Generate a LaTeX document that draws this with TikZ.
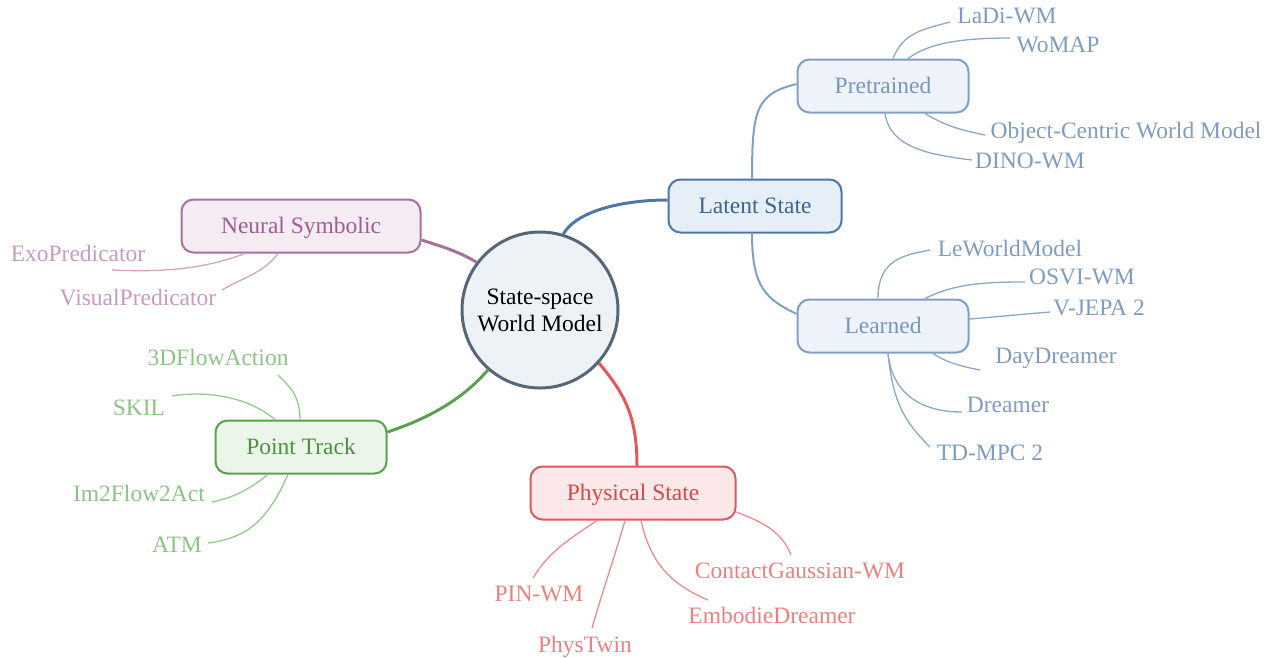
\documentclass[tikz,border=0pt]{standalone}
\usepackage{fontspec}
\setmainfont{Liberation Serif}
\definecolor{rootc}{HTML}{556677}
\definecolor{rootfill}{HTML}{EDF2F7}
\definecolor{latc}{HTML}{4D77A6}
\definecolor{latfill}{HTML}{E6EFF8}
\definecolor{lattext}{HTML}{3D6592}
\definecolor{subc}{HTML}{7F9FC6}
\definecolor{subfill}{HTML}{EEF3FB}
\definecolor{subtext}{HTML}{7896BA}
\definecolor{blueleaf}{HTML}{8BA8C9}
\definecolor{bluelt}{HTML}{7E9CC0}
\definecolor{neuc}{HTML}{A8709E}
\definecolor{neufill}{HTML}{F5EBF3}
\definecolor{neutext}{HTML}{9E5E93}
\definecolor{neuleaf}{HTML}{CFA3C8}
\definecolor{neult}{HTML}{C99AC1}
\definecolor{ptc}{HTML}{5AA04E}
\definecolor{ptfill}{HTML}{EBF5E9}
\definecolor{pttext}{HTML}{4B913F}
\definecolor{ptleaf}{HTML}{93C98B}
\definecolor{ptlt}{HTML}{8CC484}
\definecolor{phc}{HTML}{E0585A}
\definecolor{phfill}{HTML}{FCE8E8}
\definecolor{phtext}{HTML}{D94848}
\definecolor{phleaf}{HTML}{EE8A8A}
\definecolor{phlt}{HTML}{EC8080}
\tikzset{
  rootnode/.style={circle, draw=rootc, line width=3pt, fill=rootfill, minimum size=156pt, align=center, inner sep=0pt},
  catbox/.style={rounded corners=12pt, line width=2pt, minimum height=53pt, inner sep=0pt, text height=15pt, text depth=0pt},
  leaf/.style={inner sep=2pt, text height=15pt, text depth=0pt},
  mainedge/.style={line width=3pt},
  subedge/.style={line width=2pt, draw=subc},
  leafedge/.style={line width=1.3pt}
}
\begin{document}
\begin{tikzpicture}[x=1pt,y={(0pt,-1pt)}, font=\fontsize{23.5}{24}\selectfont]
\useasboundingbox (0,0) rectangle (1275,657);
% root
\node[rootnode, font=\fontsize{23.5}{27}\selectfont] (c) at (540,310) {State-space\\World Model};
% categories
\node[catbox, draw=latc, fill=latfill, text=lattext, minimum width=173pt] (lat) at (755,206) {Latent State};
\node[catbox, draw=subc, fill=subfill, text=subtext, minimum width=171pt] (pre) at (883,86) {Pretrained};
\node[catbox, draw=subc, fill=subfill, text=subtext, minimum width=171pt] (ler) at (883,326) {Learned};
\node[catbox, draw=neuc, fill=neufill, text=neutext, minimum width=239pt] (neu) at (301,226) {Neural Symbolic};
\node[catbox, draw=ptc, fill=ptfill, text=pttext, minimum width=171pt] (pt) at (301,447) {Point Track};
\node[catbox, draw=phc, fill=phfill, text=phtext, minimum width=205pt] (ph) at (633,493) {Physical State};
% leaves
\node[leaf, text=bluelt] (ladi) at (1007,16) {LaDi-WM};
\node[leaf, text=bluelt] (womap) at (1058,45) {WoMAP};
\node[leaf, text=bluelt] (obj) at (1126,131) {Object-Centric World Model};
\node[leaf, text=bluelt] (dino) at (1030,161) {DINO-WM};
\node[leaf, text=bluelt] (lew) at (1010,249) {LeWorldModel};
\node[leaf, text=bluelt] (osvi) at (1082,277) {OSVI-WM};
\node[leaf, text=bluelt] (vjepa) at (1099,308) {V-JEPA 2};
\node[leaf, text=bluelt] (dayd) at (1056,356) {DayDreamer};
\node[leaf, text=bluelt] (dream) at (1008,405) {Dreamer};
\node[leaf, text=bluelt] (tdmpc) at (990,453) {TD-MPC 2};
\node[leaf, text=neult] (exo) at (78,254) {ExoPredicator};
\node[leaf, text=neult] (vis) at (138,298) {VisualPredicator};
\node[leaf, text=ptlt] (flow) at (218,358) {3DFlowAction};
\node[leaf, text=ptlt] (skil) at (139,408) {SKIL};
\node[leaf, text=ptlt] (im2) at (139,494) {Im2Flow2Act};
\node[leaf, text=ptlt] (atm) at (177,545) {ATM};
\node[leaf, text=phlt] (pin) at (539,594) {PIN-WM};
\node[leaf, text=phlt] (twin) at (585,645) {PhysTwin};
\node[leaf, text=phlt] (emb) at (772,616) {EmbodieDreamer};
\node[leaf, text=phlt] (cont) at (800,571) {ContactGaussian-WM};
% main edges
\draw[mainedge, draw=latc] (c.73) .. controls +(15,-25) and +(-40,0) .. ([shift={(0,-6)}]lat.west);
\draw[mainedge, draw=neuc] (c.143) .. controls +(-20,-12) and +(15,5) .. ([shift={(0,14)}]neu.east);
\draw[mainedge, draw=ptc] (c.229) .. controls +(-30,35) and +(30,-10) .. ([shift={(0,-15)}]pt.east);
\draw[mainedge, draw=phc] (c.318) .. controls +(25,30) and +(0,-50) .. ([shift={(4,0)}]ph.north);
% sub edges
\draw[subedge] ([shift={(-3,0)}]lat.north) .. controls +(0,-70) and +(-40,10) .. ([shift={(0,-2)}]pre.west);
\draw[subedge] ([shift={(-3,0)}]lat.south) .. controls +(0,55) and +(-30,-15) .. ([shift={(0,-12)}]ler.west);
% pretrained and learned leaves
\begin{scope}[leafedge, draw=blueleaf]
\draw ([shift={(10,0)}]pre.north) .. controls +(10,-25) and +(-30,8) .. ([shift={(-57,6)}]ladi.center);
\draw ([shift={(25,0)}]pre.north) .. controls +(20,-15) and +(-50,0) .. ([shift={(-48,-7)}]womap.center);
\draw ([shift={(42,0)}]pre.south) .. controls +(20,12) and +(-25,-5) .. ([shift={(-141,4)}]obj.center);
\draw ([shift={(2,0)}]pre.south) .. controls +(5,35) and +(-40,-5) .. ([shift={(-58,-1)}]dino.center);
\draw ([shift={(-5,0)}]ler.north) .. controls +(0,-40) and +(-25,5) .. ([shift={(-80,1)}]lew.center);
\draw ([shift={(42,0)}]ler.north) .. controls +(30,-15) and +(-40,0) .. ([shift={(-57,5)}]osvi.center);
\draw ([shift={(0,-7)}]ler.east) .. controls +(25,-2) and +(-25,2) .. ([shift={(-49,4)}]vjepa.center);
\draw ([shift={(50,0)}]ler.south) .. controls +(15,10) and +(-15,-3) .. ([shift={(-76,14)}]dayd.center);
\draw ([shift={(5,0)}]ler.south) .. controls +(5,45) and +(-35,0) .. ([shift={(-46,7)}]dream.center);
\draw ([shift={(5,0)}]ler.south) .. controls +(5,50) and +(-25,-25) .. ([shift={(-60,-6)}]tdmpc.center);
\end{scope}
% neural leaves
\begin{scope}[leafedge, draw=neuleaf]
\draw ([shift={(-56,0)}]neu.south) .. controls +(-45,17) and +(45,2) .. ([shift={(34,16)}]exo.center);
\draw ([shift={(-23,0)}]neu.south) .. controls +(-15,20) and +(20,-12) .. ([shift={(84,-8)}]vis.center);
\end{scope}
% point track leaves
\begin{scope}[leafedge, draw=ptleaf]
\draw ([shift={(-1,0)}]pt.north) .. controls +(0,-25) and +(10,10) .. ([shift={(60,17)}]flow.center);
\draw ([shift={(-26,0)}]pt.north) .. controls +(-30,-25) and +(30,-5) .. ([shift={(33,-12)}]skil.center);
\draw ([shift={(-33,0)}]pt.south) .. controls +(-15,12) and +(25,-5) .. ([shift={(73,8)}]im2.center);
\draw ([shift={(-13,0)}]pt.south) .. controls +(-20,45) and +(40,-5) .. ([shift={(31,-2)}]atm.center);
\end{scope}
% physical leaves
\begin{scope}[leafedge, draw=phleaf]
\draw ([shift={(-36,0)}]ph.south) .. controls +(-30,20) and +(15,-25) .. ([shift={(-6,-16)}]pin.center);
\draw ([shift={(-8,0)}]ph.south) .. controls +(-10,35) and +(10,-35) .. ([shift={(7,-17)}]twin.center);
\draw ([shift={(8,0)}]ph.south) .. controls +(10,45) and +(-35,-15) .. ([shift={(-64,-16)}]emb.center);
\draw ([shift={(0,19)}]ph.east) .. controls +(25,10) and +(-10,-25) .. ([shift={(-9,-16)}]cont.center);
\end{scope}
\end{tikzpicture}
\end{document}
